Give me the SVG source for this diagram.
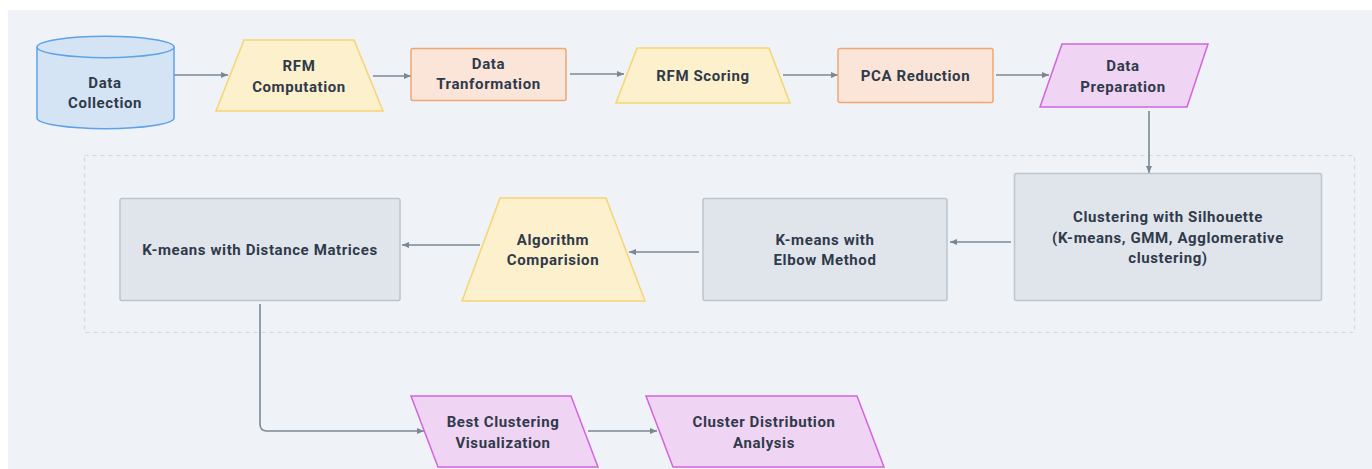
<svg xmlns="http://www.w3.org/2000/svg" width="1372" height="469" viewBox="0 0 1372 469">
<defs>
<marker id="arr" markerWidth="8" markerHeight="8" refX="7" refY="4" orient="auto" markerUnits="userSpaceOnUse">
<path d="M0,1 L7,4 L0,7 Z" fill="#7b8894"/>
</marker>
</defs>
<style>
.t{font-family:Roboto,"Liberation Sans",sans-serif;font-weight:bold;font-size:15px;letter-spacing:0.6px;fill:#2f3a4a;text-anchor:middle;dominant-baseline:central}
.c{fill:none;stroke:#7b8894;stroke-width:1.6}
.blue{fill:#d5e4f5;stroke:#5ea3e6;stroke-width:1.5}
.yel{fill:#fdf0cd;stroke:#f6d572;stroke-width:1.5}
.org{fill:#fbe5d9;stroke:#f0a674;stroke-width:1.5}
.pink{fill:#f0d4f3;stroke:#d463e1;stroke-width:1.5}
.gray{fill:#e0e5ec;stroke:#bcc5cf;stroke-width:1.5}
</style>
<rect x="0" y="0" width="1372" height="469" fill="#ffffff"/>
<rect x="8" y="10" width="1364" height="459" fill="#eff2f6"/>
<rect id="group-box" x="84.5" y="155.5" width="1270" height="177" fill="none" stroke="#d3d9e0" stroke-width="1.2" stroke-dasharray="4,4"/>
<g id="connectors">
<path class="c" d="M174,75 H228" marker-end="url(#arr)"/>
<path class="c" d="M373,76 H411" marker-end="url(#arr)"/>
<path class="c" d="M570,74 H624" marker-end="url(#arr)"/>
<path class="c" d="M783,75 H838" marker-end="url(#arr)"/>
<path class="c" d="M996,75 H1049" marker-end="url(#arr)"/>
<path class="c" d="M1149,111 V173" marker-end="url(#arr)"/>
<path class="c" d="M1011,242 H950" marker-end="url(#arr)"/>
<path class="c" d="M699,252 H629" marker-end="url(#arr)"/>
<path class="c" d="M480,245 H402" marker-end="url(#arr)"/>
<path class="c" d="M260,304 V424 Q260,431 267,431 H424" marker-end="url(#arr)"/>
<path class="c" d="M588,431 H657" marker-end="url(#arr)"/>
</g>
<g id="data-collection">
<path class="blue" d="M37,47 A68.5,10.7 0 0 1 174,47 V118 A68.5,10.7 0 0 1 37,118 Z"/>
<path class="blue" d="M37,47 A68.5,10.7 0 0 0 174,47" fill="none"/>
<text class="t" x="105" y="83">Data</text>
<text class="t" x="105" y="103">Collection</text>
</g>
<g id="rfm-computation">
<polygon class="yel" points="244,40 354,40 383,111 216,111"/>
<text class="t" x="299" y="66">RFM</text>
<text class="t" x="299" y="87">Computation</text>
</g>
<g id="data-tranformation">
<rect class="org" x="411" y="48.5" width="155" height="52" rx="2"/>
<text class="t" x="488.5" y="64">Data</text>
<text class="t" x="488.5" y="84">Tranformation</text>
</g>
<g id="rfm-scoring">
<polygon class="yel" points="637,48 769,48 790,103 616,103"/>
<text class="t" x="703" y="76">RFM Scoring</text>
</g>
<g id="pca-reduction">
<rect class="org" x="838" y="48.5" width="155" height="54" rx="2"/>
<text class="t" x="915.5" y="76">PCA Reduction</text>
</g>
<g id="data-preparation">
<polygon class="pink" points="1062,44 1208,44 1187,107 1040,107"/>
<text class="t" x="1123" y="66">Data</text>
<text class="t" x="1123" y="87">Preparation</text>
</g>
<g id="clustering-silhouette">
<rect class="gray" x="1014.5" y="173.5" width="307" height="127" rx="2"/>
<text class="t" x="1168" y="217">Clustering with Silhouette</text>
<text class="t" x="1168" y="238">(K-means, GMM, Agglomerative</text>
<text class="t" x="1168" y="258">clustering)</text>
</g>
<g id="kmeans-elbow">
<rect class="gray" x="703" y="198.5" width="244" height="102" rx="2"/>
<text class="t" x="825" y="240">K-means with</text>
<text class="t" x="825" y="260">Elbow Method</text>
</g>
<g id="algorithm-comparision">
<polygon class="yel" points="500,198 606,198 645,301 462,301"/>
<text class="t" x="553" y="240">Algorithm</text>
<text class="t" x="553" y="260">Comparision</text>
</g>
<g id="kmeans-distance">
<rect class="gray" x="120" y="198.5" width="280" height="102" rx="2"/>
<text class="t" x="260" y="250">K-means with Distance Matrices</text>
</g>
<g id="best-clustering">
<polygon class="pink" points="411,396 571,396 598,467 438,467"/>
<text class="t" x="503" y="422">Best Clustering</text>
<text class="t" x="503" y="443">Visualization</text>
</g>
<g id="cluster-distribution">
<polygon class="pink" points="646,396 857,396 884,467 673,467"/>
<text class="t" x="764" y="422">Cluster Distribution</text>
<text class="t" x="764" y="443">Analysis</text>
</g>
</svg>
